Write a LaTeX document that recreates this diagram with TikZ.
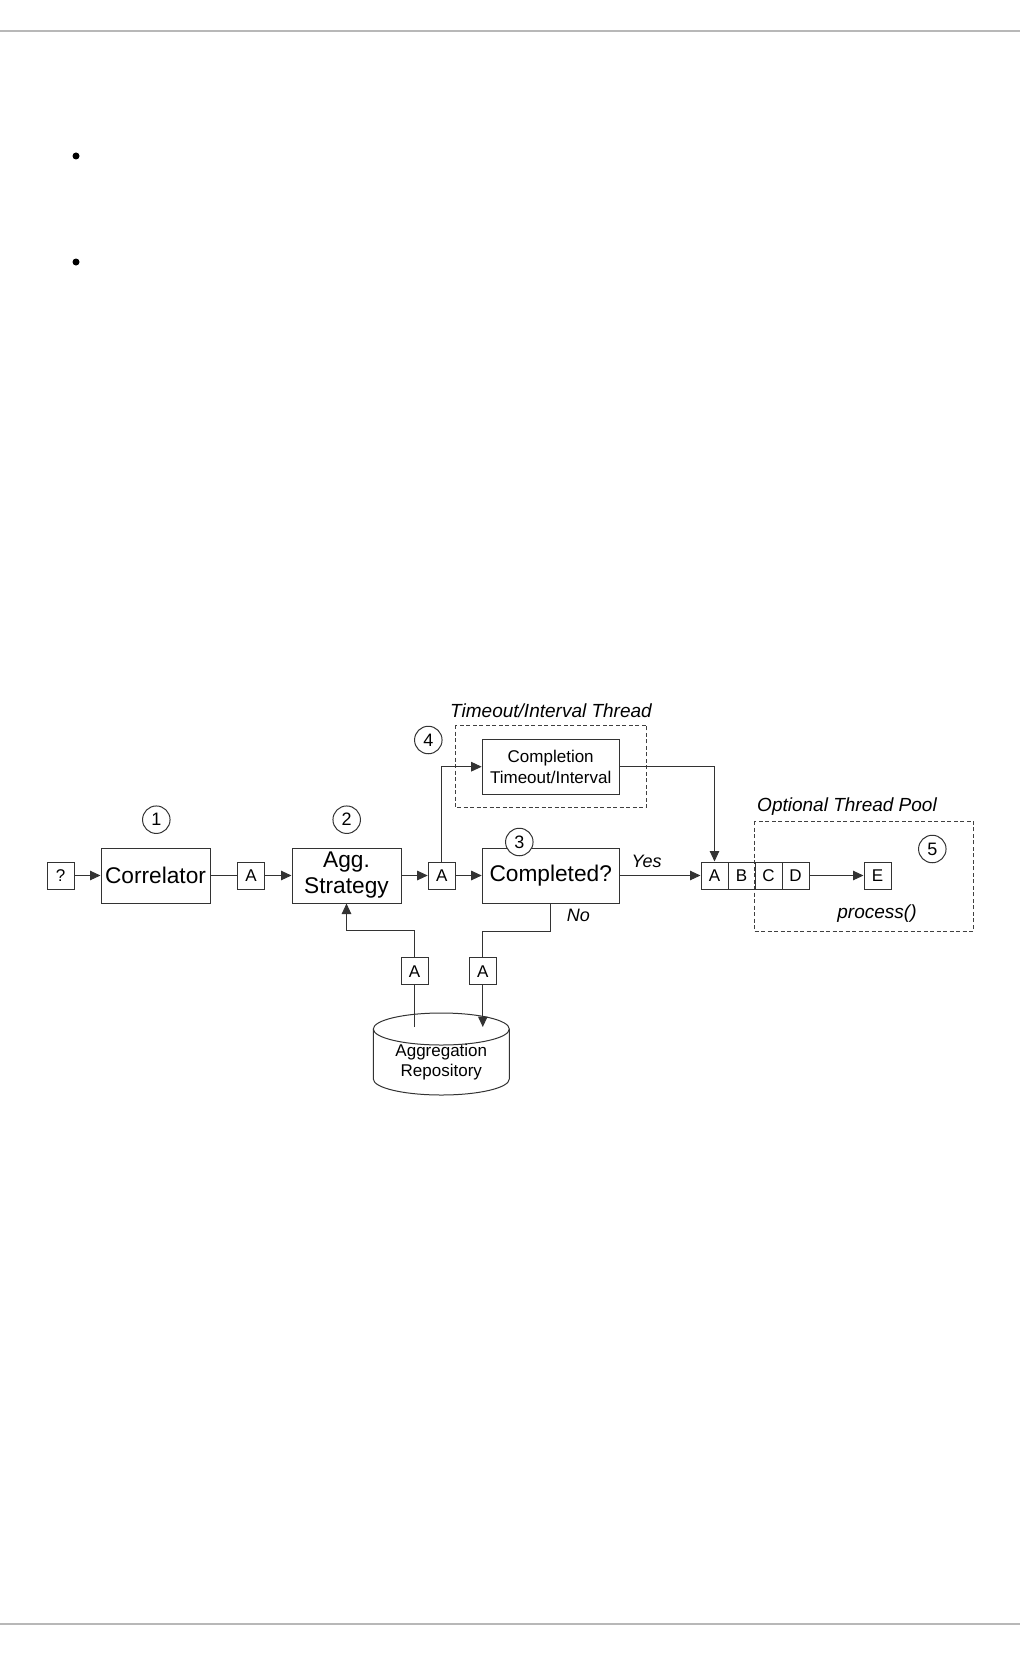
\documentclass[tikz,border=0pt]{standalone}
\usepackage{fontspec}
\setmainfont{Liberation Sans}
\usetikzlibrary{arrows.meta}
\newcommand{\bigtxt}{\fontsize{22.7}{26}\selectfont}
\newcommand{\midtxt}{\fontsize{17}{20.5}\selectfont}
\newcommand{\labtxt}{\fontsize{19}{22}\selectfont\itshape}
\newcommand{\yntxt}{\fontsize{18}{20}\selectfont\itshape}
\begin{document}
\begin{tikzpicture}[x=1pt,y=-1pt,line width=1pt,
  proc/.style={draw=black!80,minimum width=109,minimum height=55,inner sep=0,font=\bigtxt,align=center},
  msg/.style={draw=black!80,minimum width=27,minimum height=27,inner sep=0,font=\midtxt},
  num/.style={draw=black!80,fill=white,circle,minimum size=27.5,inner sep=0,font=\fontsize{18}{20}\selectfont},
  frame/.style={draw=black!75,dash pattern=on 4pt off 2.5pt},
  flow/.style={draw=black!80,-{Triangle[length=10.5pt,width=9.5pt]}}]
\useasboundingbox (0,0) rectangle (1020,1656);
\draw[line width=2pt,color=black!28] (0,31) -- (1020,31);
\draw[line width=2pt,color=black!28] (0,1624) -- (1020,1624);
\fill (76,156) circle[radius=3.5];
\fill (76,262) circle[radius=3.5];
\draw[frame] (455,725) rectangle (646.7,807.3);
\draw[frame] (754,821) rectangle (973.3,931);
\node[font=\labtxt] (thr) at (551,711) {Timeout/Interval Thread};
\node[font=\labtxt] (pool) at (847,806.7) {Optional Thread Pool};
\node[font=\labtxt] (proc) at (877,913.3) {process()};
\node[msg] (q) at (60.5,875.5) {?};
\node[proc] (corr) at (155.5,875.5) {Correlator};
\node[msg] (a1) at (251,875.5) {A};
\node[proc] (agg) at (346.5,875.5) {Agg.\\Strategy};
\node[msg] (a2) at (441.7,875.5) {A};
\node[proc,minimum width=137] (compl) at (550.7,875.5) {Completed?};
\node[proc,minimum width=137,font=\midtxt] (tmo) at (550.7,766.7) {Completion\\Timeout/Interval};
\node[msg] (qa) at (714.5,875.5) {A};
\node[msg] (qb) at (741.5,875.5) {B};
\node[msg] (qc) at (768.5,875.5) {C};
\node[msg] (qd) at (795.5,875.5) {D};
\node[msg] (e) at (877.5,875.5) {E};
\node[msg] (a3) at (414.5,971.4) {A};
\node[msg] (a4) at (482.8,971.4) {A};
\node[num] (n1) at (156.3,819.7) {1};
\node[num] (n2) at (346.7,819.7) {2};
\node[num] (n3) at (519.3,842) {3};
\node[num] (n4) at (428.3,740) {4};
\node[num] (n5) at (932.3,849) {5};
\draw[draw=black!80] (373.3,1029) -- (373.3,1079) arc[start angle=180,end angle=0,x radius=68,y radius=16] -- (509.3,1029);
\draw[draw=black!80] (441.3,1029) ellipse[x radius=68,y radius=16];
\node[font=\midtxt,align=center] (repo) at (441.3,1062) {Aggregation\\Repository};
\coordinate (r1) at (414.5,1027);
\coordinate (r2) at (482.8,1027);
\draw[flow] (q) -- (corr);
\draw[draw=black!80] (corr) -- (a1);
\draw[flow] (a1) -- (agg);
\draw[flow] (agg) -- (a2);
\draw[flow] (a2) -- (compl);
\draw[flow] (a2.north) |- (tmo.west);
\draw[flow] (compl) -- (qa);
\node[font=\yntxt] (yes) at (646.7,861.7) {Yes};
\draw[flow] (tmo.east) -| (qa.north);
\draw[flow] (qd) -- (e);
\draw[draw=black!80] (r1) -- (a3.south);
\draw[flow] (a3.north) -- ++(0,-26.7) -| (agg.south);
\draw[draw=black!80] (compl.south) -- ++(0,28.3) -| (a4.north);
\draw[flow] (a4.south) -- (r2);
\node[font=\yntxt] (no) at (578.3,915) {No};
\end{tikzpicture}
\end{document}
